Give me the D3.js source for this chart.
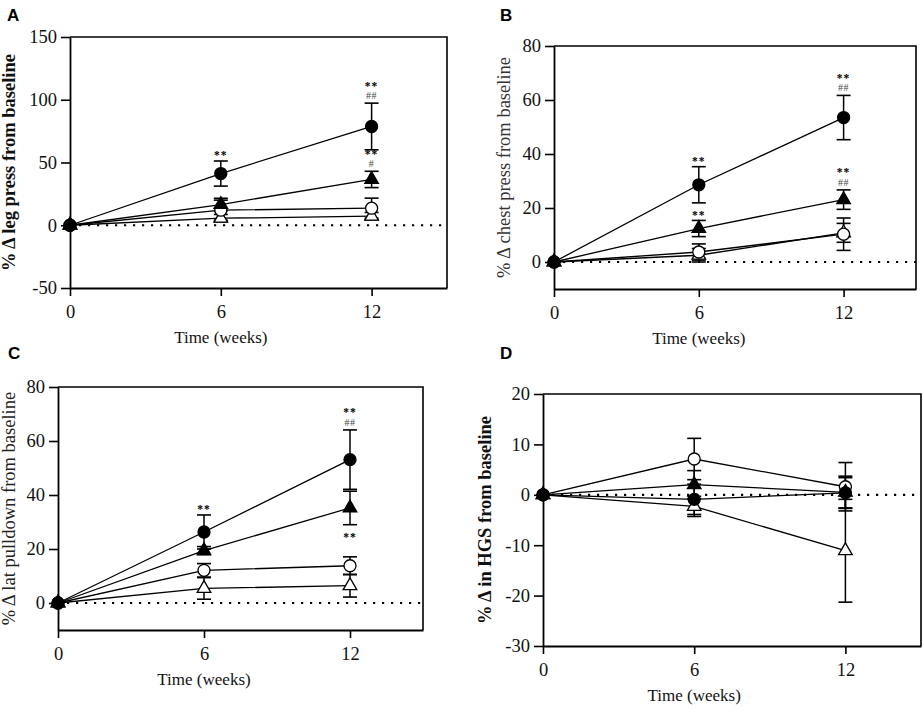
<!DOCTYPE html>
<html>
<head>
<meta charset="utf-8">
<script src="https://cdn.jsdelivr.net/npm/d3@7"></script>
<style>
  html, body { margin: 0; padding: 0; background: #fff; }
  svg { display: block; }
</style>
</head>
<body>
<svg id="chart" width="924" height="710"></svg>
<script>
// ---------- DATA ----------
const weeks = [0, 6, 12];
const xTicks = [0, 6, 12];
// series order: 0 filled circle, 1 filled triangle, 2 open circle, 3 open triangle

// Panel A: leg press
const legPressMean = [[0, 41.2, 78.7], [0, 16.5, 36.5], [0, 12.0, 13.6], [0, 5.6, 7.2]];
const legPressErr  = [[0, 10.0, 18.6], [0, 5.0, 6.5], [0, 8.0, 8.0], [0, 3.0, 3.0]];
const legPressTicks = [-50, 0, 50, 100, 150];
const legPressMarks = [
  { week: 6, series: 0, lines: ["**"], side: "above" },
  { week: 12, series: 0, lines: ["**", "##"], side: "above" },
  { week: 12, series: 1, lines: ["**", "#"], side: "above" }
];

// Panel B: chest press
const chestMean = [[0, 28.6, 53.5], [0, 12.4, 23.1], [0, 3.7, 10.3], [0, 2.5, 10.8]];
const chestErr  = [[0, 6.7, 8.2], [0, 3.0, 3.6], [0, 3.0, 6.0], [0, 2.5, 3.5]];
const chestTicks = [0, 20, 40, 60, 80];
const chestMarks = [
  { week: 6, series: 0, lines: ["**"], side: "above" },
  { week: 12, series: 0, lines: ["**", "##"], side: "above" },
  { week: 6, series: 1, lines: ["**"], side: "above" },
  { week: 12, series: 1, lines: ["**", "##"], side: "above" }
];

// Panel C: lat pulldown
const latMean = [[0, 26.3, 53.1], [0, 19.4, 35.2], [0, 12.1, 13.8], [0, 5.4, 6.4]];
const latErr  = [[0, 6.3, 11.0], [0, 1.5, 6.2], [0, 2.5, 3.3], [0, 4.0, 4.2]];
const latTicks = [0, 20, 40, 60, 80];
const latMarks = [
  { week: 6, series: 0, lines: ["**"], side: "above" },
  { week: 12, series: 0, lines: ["**", "##"], side: "above" },
  { week: 12, series: 1, lines: ["**"], side: "below" }
];

// Panel D: HGS
const hgsMean = [[0, -0.9, 0.4], [0, 2.0, 0.5], [0, 7.1, 1.6], [0, -2.3, -11.1]];
const hgsErr  = [[0, 3.0, 3.0], [0, 2.8, 3.2], [0, 4.1, 4.8], [0, 2.0, 10.2]];
const hgsTicks = [-30, -20, -10, 0, 10, 20];
const hgsMarks = [];

const panelLetters = ["A", "B", "C", "D"];
const yLabels = [
  "% \u0394 leg press from baseline",
  "% \u0394 chest press from baseline",
  "% \u0394  lat pulldown from baseline",
  "% \u0394 in HGS from baseline"
];
const xLabel = "Time (weeks)";

// ---------- LAYOUT ----------
const panels = [
  { letter: panelLetters[0], label: yLabels[0], bold: true, labelColor: "#111",
    mean: legPressMean, err: legPressErr, ticks: legPressTicks, marks: legPressMarks, yDomain: [-50, 150],
    left: 70, right: 447, top: 37, bottom: 288, labelX: 15, letterX: 7, letterY: 21 },
  { letter: panelLetters[1], label: yLabels[1], bold: false, labelColor: "#333",
    mean: chestMean, err: chestErr, ticks: chestTicks, marks: chestMarks, yDomain: [-10, 80],
    left: 554, right: 916, top: 46, bottom: 289, labelX: 510, letterX: 500, letterY: 21 },
  { letter: panelLetters[2], label: yLabels[2], bold: false, labelColor: "#222",
    mean: latMean, err: latErr, ticks: latTicks, marks: latMarks, yDomain: [-10, 80],
    left: 58, right: 423, top: 387, bottom: 630, labelX: 15, letterX: 8, letterY: 359 },
  { letter: panelLetters[3], label: yLabels[3], bold: true, labelColor: "#111",
    mean: hgsMean, err: hgsErr, ticks: hgsTicks, marks: hgsMarks, yDomain: [-30, 20],
    left: 543, right: 921, top: 394, bottom: 646, labelX: 491, letterX: 500, letterY: 359 }
];

const serif = "'Liberation Serif', 'Times New Roman', serif";
const sans = "'Liberation Sans', Arial, sans-serif";
const svg = d3.select("#chart");

const drawOrder = [3, 2, 1, 0];
const fmt = d => String(d);

panels.forEach(p => {
  const x = d3.scaleLinear().domain([0, 15]).range([p.left, p.right]);
  const y = d3.scaleLinear().domain(p.yDomain).range([p.bottom, p.top]);
  const g = svg.append("g");

  // panel letter
  svg.append("text").attr("x", p.letterX).attr("y", p.letterY)
    .attr("font-family", sans).attr("font-weight", "bold").attr("font-size", 17)
    .text(p.letter);

  // frame (top & right)
  g.append("path")
    .attr("d", `M${p.left},${p.top}H${p.right}V${p.bottom}`)
    .attr("fill", "none").attr("stroke", "#000").attr("stroke-width", 1.6);

  // y axis
  const yAxis = d3.axisLeft(y).tickValues(p.ticks).tickFormat(fmt).tickSize(9).tickPadding(4).tickSizeOuter(0);
  const ya = g.append("g").attr("transform", `translate(${p.left},0)`).call(yAxis);
  ya.select(".domain").attr("stroke-width", 1.8);
  ya.selectAll(".tick line").attr("stroke-width", 1.6);
  ya.selectAll(".tick text").attr("font-family", serif).attr("font-size", 18.5).attr("fill", "#111");

  // x axis
  const xAxis = d3.axisBottom(x).tickValues(xTicks).tickFormat(fmt).tickSize(8).tickPadding(9).tickSizeOuter(0);
  const xa = g.append("g").attr("transform", `translate(0,${p.bottom})`).call(xAxis);
  xa.select(".domain").attr("stroke-width", 1.8);
  xa.selectAll(".tick line").attr("stroke-width", 1.6);
  xa.selectAll(".tick text").attr("font-family", serif).attr("font-size", 18.5).attr("fill", "#111");

  // x label
  g.append("text").attr("x", x(6)).attr("y", p.bottom + 55)
    .attr("text-anchor", "middle").attr("font-family", serif).attr("font-size", 17)
    .attr("fill", "#111").text(xLabel);

  // y label
  g.append("text")
    .attr("transform", `translate(${p.labelX},${(p.top + p.bottom) / 2}) rotate(-90)`)
    .attr("text-anchor", "middle").attr("font-family", serif).attr("font-size", 18.5)
    .attr("font-weight", p.bold ? "bold" : "normal").attr("fill", p.labelColor)
    .text(p.label);

  // zero dotted line
  g.append("line").attr("x1", x(0)).attr("x2", p.right).attr("y1", y(0)).attr("y2", y(0))
    .attr("stroke", "#000").attr("stroke-width", 2.2).attr("stroke-dasharray", "2.2,6.8");

  const line = d3.line().x((d, i) => x(weeks[i])).y(d => y(d));

  // lines
  drawOrder.forEach(s => {
    g.append("path").datum(p.mean[s]).attr("d", line)
      .attr("fill", "none").attr("stroke", "#000").attr("stroke-width", 1.3);
  });

  // error bars
  drawOrder.forEach(s => {
    p.mean[s].forEach((m, i) => {
      const e = p.err[s][i];
      if (!e) return;
      const cx = x(weeks[i]);
      const y1 = y(m + e), y2 = y(m - e);
      g.append("line").attr("x1", cx).attr("x2", cx).attr("y1", y1).attr("y2", y2)
        .attr("stroke", "#000").attr("stroke-width", 1.5);
      [y1, y2].forEach(yy => g.append("line").attr("x1", cx - 7).attr("x2", cx + 7)
        .attr("y1", yy).attr("y2", yy).attr("stroke", "#000").attr("stroke-width", 1.6));
    });
  });

  // markers
  const tri = d3.symbol().type(d3.symbolTriangle).size(80);
  drawOrder.forEach(s => {
    const filled = s < 2;
    const isTri = s % 2 === 1;
    p.mean[s].forEach((m, i) => {
      const cx = x(weeks[i]), cy = y(m);
      if (isTri) {
        g.append("path").attr("d", tri).attr("transform", `translate(${cx},${cy})`)
          .attr("fill", filled ? "#000" : "#fff").attr("stroke", "#000").attr("stroke-width", 1.3);
      } else {
        g.append("circle").attr("cx", cx).attr("cy", cy).attr("r", 6)
          .attr("fill", filled ? "#000" : "#fff").attr("stroke", "#000").attr("stroke-width", 1.3);
      }
    });
  });

  // significance marks
  p.marks.forEach(mk => {
    const i = weeks.indexOf(mk.week);
    const m = p.mean[mk.series][i], e = p.err[mk.series][i];
    const cx = x(mk.week);
    const n = mk.lines.length;
    mk.lines.forEach((txt, k) => {
      let cy;
      if (mk.side === "above") {
        cy = y(m + e) - 8 - (n - 1 - k) * 12;
      } else {
        cy = y(m - e) + 10 + k * 12;
      }
      const isStar = txt.indexOf("*") >= 0;
      g.append("text").attr("x", cx).attr("y", cy + (isStar ? 6.5 : 3.8))
        .attr("text-anchor", "middle").attr("font-family", serif)
        .attr("font-size", isStar ? 11.5 : 10).attr("font-weight", isStar ? "bold" : "normal")
        .attr("fill", isStar ? "#000" : "#444").attr("letter-spacing", isStar ? 1 : 0.5)
        .text(txt);
    });
  });
});
</script>
</body>
</html>
